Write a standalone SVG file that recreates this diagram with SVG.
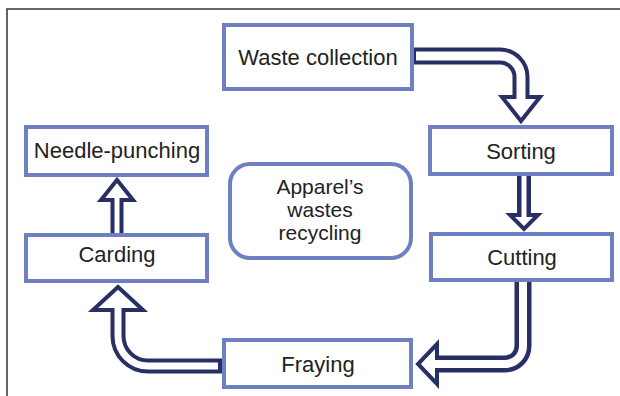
<svg xmlns="http://www.w3.org/2000/svg" width="620" height="396" viewBox="0 0 620 396">
<style>
.box{fill:#fff;stroke:#6e7fc2;stroke-width:4}
.lbl{font-family:"Liberation Sans",Arial,sans-serif;font-size:22px;fill:#222;text-anchor:middle}
.mid{font-size:21px}
.ao{fill:none;stroke:#272f64}
.ai{fill:none;stroke:#fff}
.ah{fill:#fff;stroke:#272f64;stroke-width:4;stroke-linejoin:miter}
</style>
<rect width="620" height="396" fill="#fff"/>
<path d="M7,396 V9 H620" fill="none" stroke="#333" stroke-width="1.5"/>
<g id="connectors">
  <g id="c1">
    <path class="ao" stroke-width="17" d="M412,56 H500 A21,21 0 0 1 521,77 V99"/>
    <polygon class="ah" points="502,97 540,97 521,121"/>
    <path class="ai" stroke-width="9" d="M416,56 H500 A21,21 0 0 1 521,77 V101"/>
  </g>
  <g id="c2">
    <path class="ao" stroke-width="14" d="M524,176 V216"/>
    <polygon class="ah" points="510,215 538,215 524,229"/>
    <path class="ai" stroke-width="5" d="M524,176 V218"/>
  </g>
  <g id="c3">
    <path class="ao" stroke-width="17" d="M523,282 V346 A18,18 0 0 1 505,364 H435"/>
    <polygon class="ah" points="437,344 437,384 418,364"/>
    <path class="ai" stroke-width="8" d="M523,282 V346 A18,18 0 0 1 505,364 H434"/>
  </g>
  <g id="c4">
    <path class="ao" stroke-width="15" d="M222,366 H148 A30,30 0 0 1 118,336 V308"/>
    <polygon class="ah" points="93,310 143,310 118,287"/>
    <path class="ai" stroke-width="7" d="M218,366 H148 A30,30 0 0 1 118,336 V307"/>
  </g>
  <g id="c5">
    <path class="ao" stroke-width="13" d="M117,233 V198"/>
    <polygon class="ah" points="101,200 133,200 117,180"/>
    <path class="ai" stroke-width="5" d="M117,233 V197"/>
  </g>
</g>
<g id="waste-collection">
  <rect class="box" x="224" y="25" width="188" height="64"/>
  <text class="lbl" x="318" y="65">Waste collection</text>
</g>
<g id="sorting">
  <rect class="box" x="430" y="127" width="182" height="47"/>
  <text class="lbl" x="521" y="159">Sorting</text>
</g>
<g id="cutting">
  <rect class="box" x="431" y="234" width="181" height="46"/>
  <text class="lbl" x="522" y="265">Cutting</text>
</g>
<g id="fraying">
  <rect class="box" x="224" y="340" width="187" height="47"/>
  <text class="lbl" x="318" y="372">Fraying</text>
</g>
<g id="carding">
  <rect class="box" x="26" y="235" width="181" height="46"/>
  <text class="lbl" x="117" y="262">Carding</text>
</g>
<g id="needle-punching">
  <rect class="box" x="26" y="127" width="181" height="48"/>
  <text class="lbl" x="117" y="158">Needle-punching</text>
</g>
<g id="center">
  <rect class="box" x="230" y="164" width="181" height="94" rx="20" ry="20"/>
  <text class="lbl mid" x="320" y="194">Apparel’s</text>
  <text class="lbl mid" x="320" y="217">wastes</text>
  <text class="lbl mid" x="320" y="240">recycling</text>
</g>
</svg>
